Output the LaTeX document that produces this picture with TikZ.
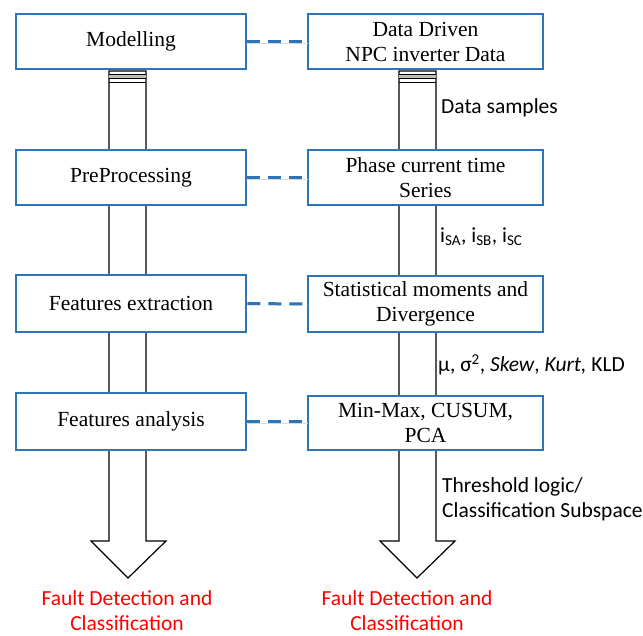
\documentclass[tikz,border=0pt]{standalone}
\usepackage{fontspec}
\setmainfont{Liberation Serif}
\newfontfamily\calibri{Carlito}
\usetikzlibrary{positioning}
\definecolor{boxblue}{RGB}{46,117,182}
\definecolor{faultred}{RGB}{255,0,0}

\begin{document}
\begin{tikzpicture}[x=1pt,y=-1pt,
    stage/.style={draw=boxblue, line width=2.5pt, fill=white, minimum width=230pt,
      minimum height=55pt, align=center, font=\fontsize{21.5}{25}\selectfont},
    method/.style={stage, minimum width=235pt},
    link/.style={draw=boxblue, line width=3pt, dash pattern=on 13pt off 8pt,
      preaction={draw=black!15, transform canvas={shift={(1pt,-2pt)}}}},
    shaft/.style={draw=black, line width=1.2pt, fill=white},
    note/.style={font=\calibri\fontsize{21.5}{25}\selectfont, anchor=west, align=left, inner sep=0pt},
    result/.style={note, anchor=center, align=center, text=faultred}]
  \useasboundingbox (0,0) rectangle (643,635);

  % hollow arrows behind the boxes
  \foreach \l/\r/\t in {109/146/128, 399/436/417} {
    \draw[shaft] (\l,71) -- (\l,541) -- ({\t-37},541) -- (\t,578) -- ({\t+38},541)
      -- (\r,541) -- (\r,71) -- cycle;
    \fill[black!25] (\l,74) rectangle (\r,78);
    \draw[line width=1pt] (\l,74) -- (\r,74) (\l,78) -- (\r,78) (\l,82) -- (\r,82);
  }

  \node[stage] (model) at (131,41.5) {Modelling};
  \node[method] (data) at (425.5,41.5) {Data Driven\\NPC inverter Data};
  \node[stage] (prep) at (131,177.5) {PreProcessing};
  \node[method] (series) at (425.5,177.5) {Phase current time\\Series};
  \node[stage, minimum height=57pt] (extract) at (131,303.5) {Features extraction};
  \node[method, minimum height=56pt] (moments) at (425.5,304) {Statistical moments and\\Divergence};
  \node[stage, minimum height=57pt] (analysis) at (131,421.5) {Features analysis};
  \node[method, minimum height=54pt] (pca) at (425.5,423) {Min-Max, CUSUM,\\PCA};

  \draw[link] (model) -- (data);
  \draw[link] (prep) -- (series);
  \draw[link] (extract) -- (moments);
  \draw[link] (analysis.east) -- (analysis.east -| pca.west);

  % labels on the data flow
  \node[note] (samples) at (441,108) {Data samples};
  \node[note] (phases) at (440,237) {i\textsubscript{SA}, i\textsubscript{SB}, i\textsubscript{SC}};
  \node[note] (stats) at (438,365) {μ, σ\textsuperscript{2}, \textit{Skew}, \textit{Kurt,} KLD};
  \node[note] (logic) at (442,499.5) {Threshold logic/\\Classification Subspace};

  \node[result] (faultL) at (127,611) {Fault Detection and\\Classification};
  \node[result] (faultR) at (407,611) {Fault Detection and\\Classification};
\end{tikzpicture}
\end{document}
